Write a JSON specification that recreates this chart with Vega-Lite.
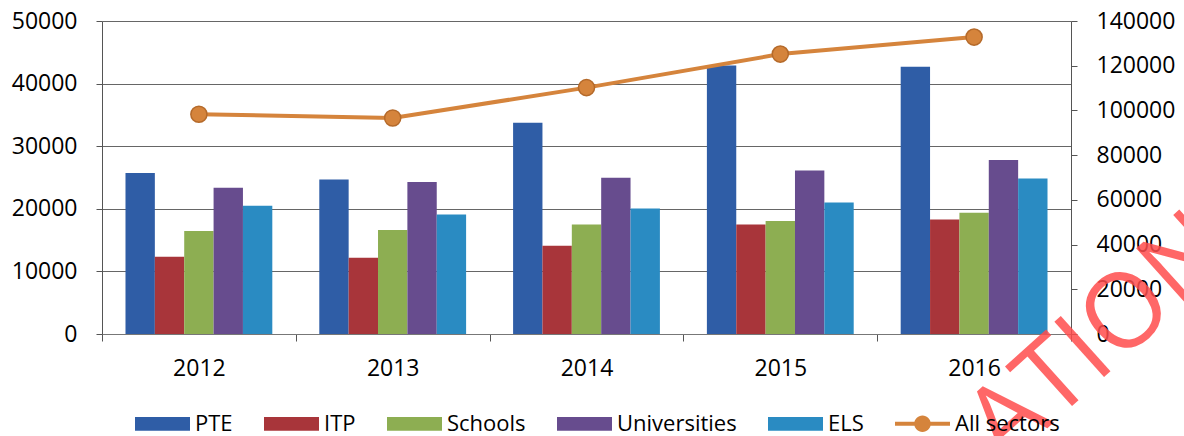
{
  "$schema": "https://vega.github.io/schema/vega-lite/v6.json",
  "width": 969,
  "height": 313,
  "autosize": {"type": "none"},
  "padding": {"left": 102, "top": 21, "right": 113, "bottom": 102},
  "background": "white",
  "config": {
    "view": {"stroke": null},
    "font": "Open Sans",
    "axis": {
      "labelFont": "Open Sans",
      "labelFontSize": 23,
      "labelColor": "#000000",
      "domainColor": "#555555",
      "tickColor": "#555555",
      "gridColor": "#666666",
      "gridWidth": 1.2
    }
  },
  "datasets": {
    "bars": [
      {"year": "2012", "series": "PTE", "value": 25700},
      {"year": "2012", "series": "ITP", "value": 12350},
      {"year": "2012", "series": "Schools", "value": 16450},
      {"year": "2012", "series": "Universities", "value": 23350},
      {"year": "2012", "series": "ELS", "value": 20500},
      {"year": "2013", "series": "PTE", "value": 24700},
      {"year": "2013", "series": "ITP", "value": 12200},
      {"year": "2013", "series": "Schools", "value": 16600},
      {"year": "2013", "series": "Universities", "value": 24300},
      {"year": "2013", "series": "ELS", "value": 19100},
      {"year": "2014", "series": "PTE", "value": 33750},
      {"year": "2014", "series": "ITP", "value": 14100},
      {"year": "2014", "series": "Schools", "value": 17500},
      {"year": "2014", "series": "Universities", "value": 24950},
      {"year": "2014", "series": "ELS", "value": 20050},
      {"year": "2015", "series": "PTE", "value": 42900},
      {"year": "2015", "series": "ITP", "value": 17500},
      {"year": "2015", "series": "Schools", "value": 18050},
      {"year": "2015", "series": "Universities", "value": 26100},
      {"year": "2015", "series": "ELS", "value": 21000},
      {"year": "2016", "series": "PTE", "value": 42700},
      {"year": "2016", "series": "ITP", "value": 18300},
      {"year": "2016", "series": "Schools", "value": 19350},
      {"year": "2016", "series": "Universities", "value": 27800},
      {"year": "2016", "series": "ELS", "value": 24850}
    ],
    "total": [
      {"year": "2012", "series": "All sectors", "value": 98300},
      {"year": "2013", "series": "All sectors", "value": 96600},
      {"year": "2014", "series": "All sectors", "value": 110200},
      {"year": "2015", "series": "All sectors", "value": 125200},
      {"year": "2016", "series": "All sectors", "value": 132800}
    ],
    "stamp": [{"label": "ATION"}]
  },
  "layer": [
    {
      "layer": [
        {
          "data": {"name": "bars"},
          "mark": {"type": "bar"},
          "encoding": {
            "x": {
              "field": "year",
              "type": "nominal",
              "scale": {"paddingInner": 0, "paddingOuter": 0},
              "axis": {"title": null, "tickBand": "extent", "labelAngle": 0, "labelPadding": 16, "tickSize": 7, "domainColor": "#777777"}
            },
            "xOffset": {
              "field": "series",
              "type": "nominal",
              "sort": ["PTE", "ITP", "Schools", "Universities", "ELS"],
              "scale": {"paddingInner": 0, "paddingOuter": 0.8}
            },
            "y": {
              "field": "value",
              "type": "quantitative",
              "scale": {"domain": [0, 50000], "nice": false},
              "axis": {"title": null, "values": [0, 10000, 20000, 30000, 40000, 50000], "format": "d", "grid": true, "labelPadding": 19, "tickSize": 6}
            },
            "color": {
              "field": "series",
              "type": "nominal",
              "scale": {
                "domain": ["PTE", "ITP", "Schools", "Universities", "ELS", "All sectors"],
                "range": ["#2F5DA6", "#A8353A", "#8DAE52", "#674C8E", "#2A8BC2", "#D5843C"]
              },
              "legend": {
                "orient": "none",
                "legendX": 33,
                "legendY": 375,
                "direction": "horizontal",
                "title": null,
                "padding": 0,
                "labelFont": "Open Sans",
                "labelFontSize": 22,
                "labelColor": "#000000",
                "symbolSize": 3025,
                "symbolStrokeWidth": 0,
                "symbolOpacity": 1,
                "labelOffset": 5,
                "columnPadding": 31,
                "encoding": {
                  "symbols": {
                    "shape": {"value": {"expr": "datum.value === 'All sectors' ? 'M-1,-0.07H1V0.07H-1Z M0.3,0A0.3,0.3,0,1,1,-0.3,0A0.3,0.3,0,1,1,0.3,0Z' : 'M-1,-0.25H1V0.25H-1Z'"}},
                    "fill": {"value": {"expr": "scale('color', datum.value)"}}
                  }
                }
              }
            }
          }
        },
        {
          "data": {"name": "stamp"},
          "mark": {"type": "text", "angle": -42, "fontSize": 104, "font": "Open Sans", "color": "#FF4D4D", "opacity": 0.85, "align": "center", "baseline": "middle"},
          "encoding": {
            "text": {"field": "label"},
            "x": {"datum": "2016", "bandPosition": 1.15},
            "y": {"datum": -800}
          }
        }
      ]
    },
    {
      "data": {"name": "total"},
      "mark": {
        "type": "line",
        "strokeWidth": 4,
        "point": {"filled": true, "size": 260, "stroke": "#B56A2A", "strokeWidth": 1.5}
      },
      "encoding": {
        "x": {"field": "year", "type": "nominal"},
        "y": {
          "field": "value",
          "type": "quantitative",
          "scale": {"domain": [0, 140000], "nice": false},
          "axis": {"title": null, "orient": "right", "values": [0, 20000, 40000, 60000, 80000, 100000, 120000, 140000], "format": "d", "grid": false, "labelPadding": 19, "tickSize": 6}
        },
        "color": {"field": "series", "type": "nominal"}
      }
    }
  ],
  "resolve": {"scale": {"y": "independent"}}
}
